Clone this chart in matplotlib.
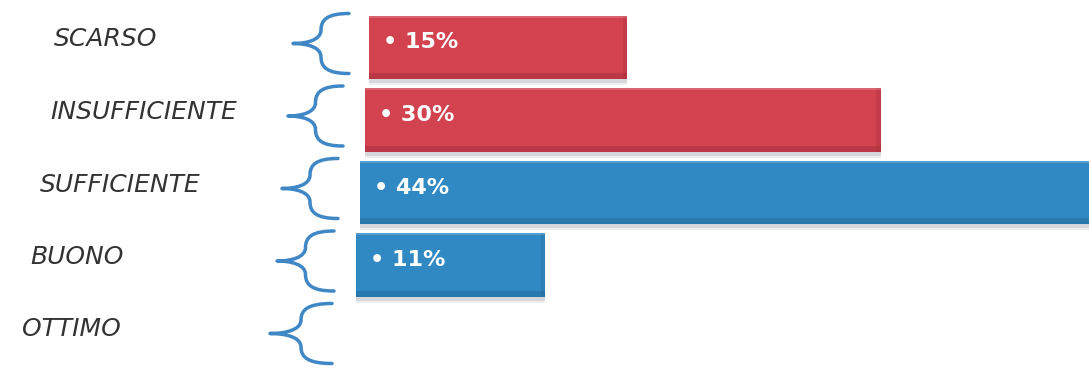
import matplotlib
matplotlib.use("Agg")
import matplotlib.pyplot as plt
from matplotlib.path import Path
from matplotlib.patches import PathPatch

categories = ["SCARSO", "INSUFFICIENTE", "SUFFICIENTE", "BUONO", "OTTIMO"]
percent = [15, 30, 44, 11, 0]
value_labels = ["15%", "30%", "44%", "11%", ""]
bar_colors = ["#d2424f", "#d2424f", "#3189c3", "#3189c3", "#3189c3"]
edge_colors = ["#a8303d", "#a8303d", "#236c9e", "#236c9e", "#236c9e"]

# page layout, in pixels of the 1089x371 output
W, H = 1089, 371
PX_PER_PCT = 17.2
ORIGIN_PX = 356          # left edge of the lowest bar
ROW0_PX, ROW_PX = 47.5, 72.5
SKEW_PX = 4.3            # bars lean a little to the right going up
BAR_H = 0.87
label_x_px = [106, 144, 120, 77, 71]
brace_tip_px = [293, 288, 282, 277, 270]
brace_end_px = [349, 343, 338, 334, 332]


def px_x(p):
    return (p - ORIGIN_PX) / PX_PER_PCT


def px_dy(p):
    return p / ROW_PX


def draw_brace(ax, tip, end, yc, half):
    w = end - tip
    mx = tip + 0.5 * w
    pts = [
        (end, yc - half),
        (tip + 0.62 * w, yc - half), (mx, yc - 0.8 * half), (mx, yc - 0.45 * half),
        (mx, yc - 0.12 * half), (tip + 0.25 * w, yc), (tip, yc),
        (tip + 0.25 * w, yc), (mx, yc + 0.12 * half), (mx, yc + 0.45 * half),
        (mx, yc + 0.8 * half), (tip + 0.62 * w, yc + half), (end, yc + half),
    ]
    verts = [(px_x(x), y) for x, y in pts]
    codes = [Path.MOVETO] + [Path.CURVE4] * 12
    ax.add_patch(PathPatch(Path(verts, codes), fill=False, edgecolor="#3f87c5",
                           lw=2.5, capstyle="round", joinstyle="round",
                           clip_on=False))


fig = plt.figure(figsize=(W / 100, H / 100), dpi=100)
ax = fig.add_axes([0, 0, 1, 1])
ax.set_xlim(px_x(0), px_x(W))
ax.set_ylim((H - ROW0_PX) / ROW_PX, -ROW0_PX / ROW_PX)
ax.axis("off")

n = len(categories)
rows = list(range(n))
lefts = [(n - 2 - i) * SKEW_PX / PX_PER_PCT for i in rows]

# soft grey shadow under each bar
for dy, a in [(px_dy(6), 0.25), (px_dy(4), 0.45)]:
    ax.barh([r + dy for r in rows], percent, left=lefts, height=BAR_H,
            color="#b9bcc3", alpha=a, linewidth=0)

ax.barh(rows, percent, left=lefts, height=BAR_H, color=bar_colors, linewidth=0)

# darker bevel along the bottom and the right end, light rim on top
strip = px_dy(6)
ax.barh([r + BAR_H / 2 - strip / 2 for r in rows], percent, left=lefts,
        height=strip, color=edge_colors, alpha=0.55, linewidth=0)
ax.barh(rows, [0.25 if v else 0 for v in percent],
        left=[l + v - 0.25 for l, v in zip(lefts, percent)], height=BAR_H,
        color=edge_colors, alpha=0.35, linewidth=0)
ax.barh([r - BAR_H / 2 + px_dy(1) for r in rows], percent, left=lefts,
        height=px_dy(2), color="white", alpha=0.18, linewidth=0)

for i, (l, v, lab) in enumerate(zip(lefts, percent, value_labels)):
    if v:
        ax.text(l + px_x(ORIGIN_PX + 14), i - px_dy(5), "\u2022 " + lab,
                ha="left", va="center", color="white", fontsize=16,
                fontweight="bold", family="DejaVu Sans")

for i, cat in enumerate(categories):
    ax.text(px_x(label_x_px[i]), i - px_dy(8), cat, ha="center", va="center",
            color="#333333", fontsize=18, fontstyle="italic",
            family="DejaVu Sans")
    draw_brace(ax, brace_tip_px[i], brace_end_px[i], i - px_dy(4), px_dy(30))

fig.savefig("out.png", dpi=100)
